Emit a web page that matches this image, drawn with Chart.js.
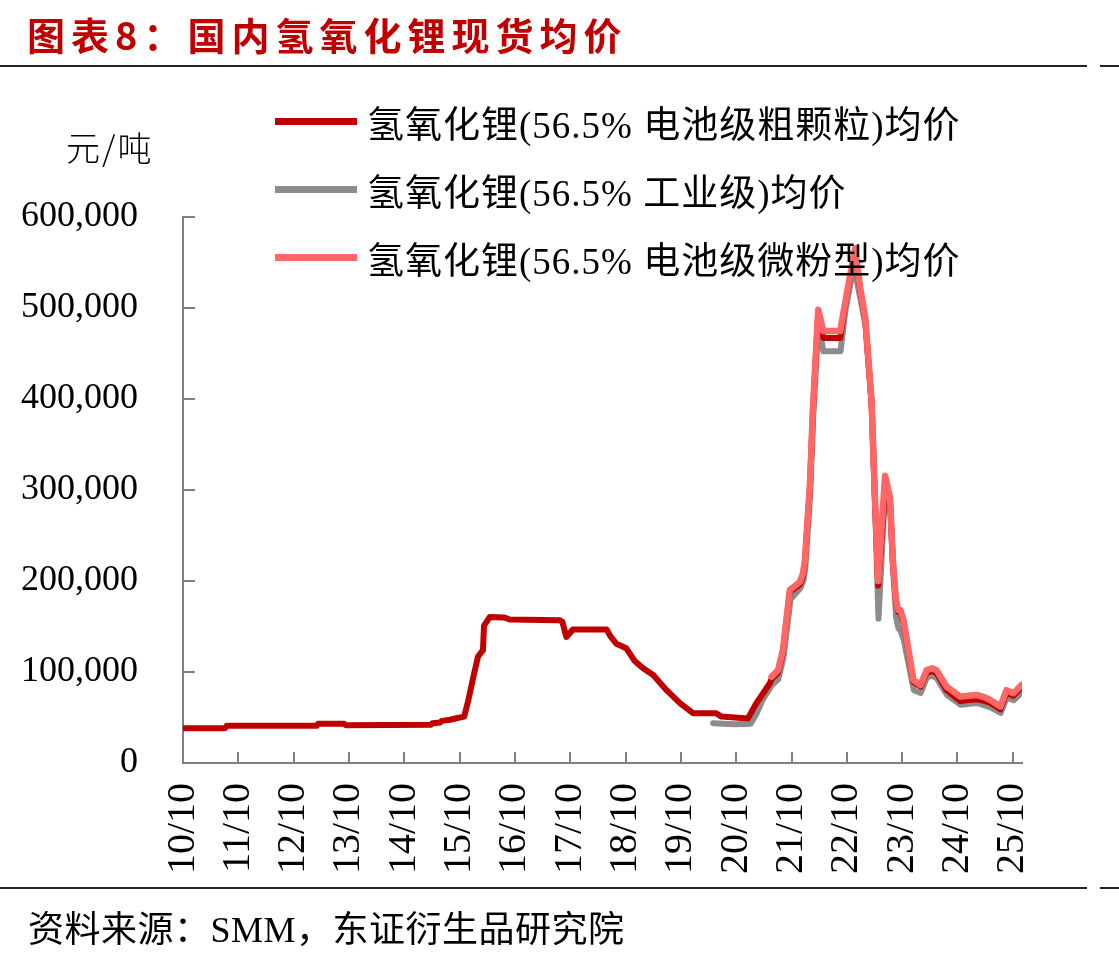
<!DOCTYPE html>
<html>
<head>
<meta charset="utf-8">
<script src="https://cdn.jsdelivr.net/npm/chart.js@4.4.1/dist/chart.umd.min.js"></script>
<style>
  html, body { margin: 0; padding: 0; background: #fff; }
  #wrap { position: relative; width: 1119px; height: 957px; overflow: hidden; font-family: "Liberation Serif", "Noto Sans CJK SC", serif; }
  #chart { position: absolute; left: 0; top: 0; }
  .title { position: absolute; left: 27px; top: 6px; font-family: "Noto Sans CJK SC", sans-serif; font-weight: 700; font-size: 38px; letter-spacing: 6px; color: #c00000; white-space: nowrap; }
  .rule { position: absolute; height: 2px; background: #222; }
  .unit { position: absolute; left: 66px; top: 122px; font-size: 34px; letter-spacing: 2px; font-family: "Noto Sans CJK SC", serif; font-weight: 300; color: #000; }
  .legend { position: absolute; left: 275px; top: 95px; }
  .legend .row { position: absolute; left: 0; white-space: nowrap; height: 50px; }
  .legend .sw { position: absolute; left: 0; top: 23px; width: 82px; height: 7px; }
  .legend .tx { position: absolute; left: 92px; top: 0; font-size: 37px; letter-spacing: 1px; color: #000; font-family: "Liberation Serif", "Noto Sans CJK SC", serif; }
  .source { position: absolute; left: 28px; top: 900px; font-size: 36px; letter-spacing: 0.5px; color: #000; font-family: "Liberation Serif", "Noto Sans CJK SC", serif; white-space: nowrap; }
</style>
</head>
<body>
<div id="wrap">
  <canvas id="chart" width="1119" height="957"></canvas>
  <div class="title">图表8：国内氢氧化锂现货均价</div>
  <div class="rule" style="left:0; top:65px; width:1087px;"></div>
  <div class="rule" style="left:1100px; top:65px; width:19px;"></div>
  <div class="unit">元/吨</div>
  <div class="legend" id="legend"></div>
  <div class="rule" style="left:0; top:887px; width:1087px;"></div>
  <div class="rule" style="left:1100px; top:887px; width:19px;"></div>
  <div class="source">资料来源：SMM，东证衍生品研究院</div>
</div>
<script>
// series names
const seriesNames = [
  "氢氧化锂(56.5% 电池级粗颗粒)均价",
  "氢氧化锂(56.5% 工业级)均价",
  "氢氧化锂(56.5% 电池级微粉型)均价"
];

// 电池级粗颗粒
const coarseDates = [
  "2010-10-01","2011-07-05","2011-07-15","2013-03-01","2013-03-10","2013-09-01","2013-09-10",
  "2015-03-25","2015-04-05","2015-05-25","2015-06-05","2015-08-01","2015-09-10","2015-11-01",
  "2015-11-28","2016-01-01","2016-02-01","2016-03-03","2016-03-10","2016-04-18","2016-07-20",
  "2016-08-28","2017-07-20","2017-08-10","2017-09-06","2017-09-25","2017-10-18","2018-05-28",
  "2018-06-20","2018-08-01","2018-10-06","2018-12-01","2019-01-25","2019-04-01","2019-06-28",
  "2019-09-25","2019-12-20","2020-05-20","2020-06-25","2020-12-18","2021-02-12","2021-03-20",
  "2021-05-10","2021-05-20","2021-07-03","2021-08-05","2021-09-20","2021-11-25","2021-12-15",
  "2021-12-28","2022-02-01","2022-02-20","2022-03-25","2022-04-28","2022-08-18","2022-09-18",
  "2022-11-01","2022-11-25","2022-12-28","2023-02-01","2023-03-12","2023-04-03","2023-04-25",
  "2023-06-10","2023-07-12","2023-08-01","2023-08-20","2023-09-05","2023-09-20","2023-10-10",
  "2023-12-15","2024-01-31","2024-03-10","2024-04-15","2024-05-15","2024-07-20","2024-10-20",
  "2025-02-05","2025-04-01","2025-05-05","2025-07-10","2025-08-20","2025-10-05","2025-11-28"
];
const coarseValues = [
  38300,38300,40800,40800,43000,43000,41600,
  42000,43800,44500,46300,47500,49200,51000,
  69000,95000,117000,124000,151000,160500,160000,
  157700,157000,155000,138600,142000,146700,146700,
  140000,131000,126000,112000,104000,96700,80000,
  65700,54700,54700,51000,49000,65700,75000,
  87600,92000,99000,122000,188000,196000,205000,
  220000,304000,385000,495000,467000,467000,502000,
  542000,563000,520000,487000,396000,293000,195000,
  300000,288000,220000,178000,166000,165000,154000,
  89000,84000,99000,101000,99000,80000,68000,
  70000,68000,66000,59000,77000,74000,83000
];

// 工业级
const industrialDates = [
  "2020-05-01","2020-09-15","2021-01-05","2021-02-15","2021-03-25","2021-05-10","2021-05-25",
  "2021-07-05","2021-08-08","2021-09-25","2021-11-28","2021-12-18","2022-01-01","2022-02-03",
  "2022-02-22","2022-03-27","2022-04-28","2022-08-20","2022-09-20","2022-11-03","2022-11-27",
  "2022-12-30","2023-02-03","2023-03-14","2023-04-05","2023-04-27","2023-06-12","2023-07-14",
  "2023-08-03","2023-08-22","2023-09-07","2023-09-22","2023-10-12","2023-12-17","2024-02-02",
  "2024-03-12","2024-04-17","2024-05-17","2024-07-22","2024-10-22","2025-02-07","2025-04-03",
  "2025-05-07","2025-07-12","2025-08-22","2025-10-07","2025-11-28"
];
const industrialValues = [
  43800,42500,43000,55000,70000,82000,86000,
  92000,115000,180000,192000,200000,214000,296000,
  380000,485000,452500,452500,495000,535000,537000,
  510000,480000,390000,285000,158700,305000,280000,
  210000,160000,148000,145000,135000,80000,77000,
  94000,96000,93000,75000,64000,66000,63000,
  61000,55000,72000,69000,77000
];

// 电池级微粉型
const microDates = [
  "2021-05-21","2021-07-03","2021-08-05","2021-09-20","2021-11-25","2021-12-15","2021-12-28",
  "2022-02-01","2022-02-20","2022-03-25","2022-04-28","2022-08-18","2022-09-18","2022-11-01",
  "2022-11-25","2022-12-28","2023-02-01","2023-03-12","2023-04-03","2023-04-25","2023-06-10",
  "2023-07-12","2023-08-01","2023-08-20","2023-09-05","2023-09-20","2023-10-10","2023-12-15",
  "2024-01-31","2024-03-10","2024-04-15","2024-05-15","2024-07-20","2024-10-20","2025-02-05",
  "2025-04-01","2025-05-05","2025-07-10","2025-08-20","2025-10-05","2025-11-28"
];
const microValues = [
  94800,102000,124000,190000,199000,208000,222000,
  306000,388000,498000,474600,474600,503600,543700,
  565600,522000,489000,398000,295600,200000,315700,
  292000,222000,180000,168000,168000,157000,91000,
  85700,102000,104000,102000,84000,73000,74800,
  72000,69300,62000,80000,76600,85700
];

const yTicks = [0, 100000, 200000, 300000, 400000, 500000, 600000];

// months since 2010-10
function monthIndex(s) {
  const [y, m, d] = s.split("-").map(Number);
  return (y - 2010) * 12 + (m - 10) + (d - 1) / 30;
}
function toPoints(dates, values) {
  return dates.map((d, i) => ({ x: monthIndex(d), y: values[i] }));
}

const COLORS = { coarse: "#c00000", industrial: "#8c8c8c", micro: "#ff6666" };

// legend (html, same order as reference)
const legendEl = document.getElementById("legend");
[[seriesNames[0], COLORS.coarse], [seriesNames[1], COLORS.industrial], [seriesNames[2], COLORS.micro]]
  .forEach(([name, color], i) => {
    const row = document.createElement("div");
    row.className = "row";
    row.style.top = (i * 68) + "px";
    row.innerHTML = '<div class="sw" style="background:' + color + '"></div><div class="tx">' + name + '</div>';
    legendEl.appendChild(row);
  });

// inward tick marks
const innerTicks = {
  id: "innerTicks",
  beforeDatasetsDraw(chart) {
    const { ctx, chartArea, scales } = chart;
    ctx.save();
    ctx.strokeStyle = "#808080";
    ctx.lineWidth = 2;
    yTicks.forEach(v => {
      const py = Math.round(scales.y.getPixelForValue(v));
      ctx.beginPath();
      ctx.moveTo(chartArea.left, py);
      ctx.lineTo(chartArea.left + 12, py);
      ctx.stroke();
    });
    scales.x.ticks.forEach(t => {
      if (t.value % 12 !== 0 || t.value === 0) return;
      const px = Math.round(scales.x.getPixelForValue(t.value));
      ctx.beginPath();
      ctx.moveTo(px, chartArea.bottom);
      ctx.lineTo(px, chartArea.bottom - 11);
      ctx.stroke();
    });
    ctx.restore();
  }
};

const ctx = document.getElementById("chart").getContext("2d");
new Chart(ctx, {
  type: "line",
  data: {
    datasets: [
      {
        label: seriesNames[0],
        data: toPoints(coarseDates, coarseValues),
        borderColor: COLORS.coarse,
        borderWidth: 6,
        order: 2
      },
      {
        label: seriesNames[1],
        data: toPoints(industrialDates, industrialValues),
        borderColor: COLORS.industrial,
        borderWidth: 6,
        order: 3
      },
      {
        label: seriesNames[2],
        data: toPoints(microDates, microValues),
        borderColor: COLORS.micro,
        borderWidth: 6.5,
        order: 1
      }
    ]
  },
  options: {
    responsive: false,
    animation: false,
    elements: {
      point: { radius: 0 },
      line: { tension: 0, borderJoinStyle: "round", borderCapStyle: "round" }
    },
    layout: { padding: { top: 217, right: 97, bottom: 0, left: 0 } },
    plugins: { legend: { display: false }, tooltip: { enabled: false } },
    scales: {
      x: {
        type: "linear",
        min: 0,
        max: 182,
        grid: { display: false, drawTicks: false },
        border: { display: true, color: "#808080", width: 2 },
        afterFit: s => { s.height = 194; },
        ticks: {
          stepSize: 12,
          includeBounds: false,
          autoSkip: false,
          maxRotation: 90,
          minRotation: 90,
          padding: 20,
          color: "#000",
          font: { family: "'Liberation Serif', serif", size: 40 },
          callback: v => (v % 12 === 0) ? String(10 + v / 12) + "/10" : ""
        }
      },
      y: {
        min: 0,
        max: 600000,
        grid: { display: false, drawTicks: false },
        border: { display: true, color: "#808080", width: 2 },
        afterFit: s => { s.width = 183; },
        ticks: {
          stepSize: 100000,
          padding: 45,
          color: "#000",
          font: { family: "'Liberation Serif', serif", size: 36 },
          callback: v => v.toLocaleString("en-US")
        }
      }
    }
  },
  plugins: [innerTicks]
});
</script>
</body>
</html>
